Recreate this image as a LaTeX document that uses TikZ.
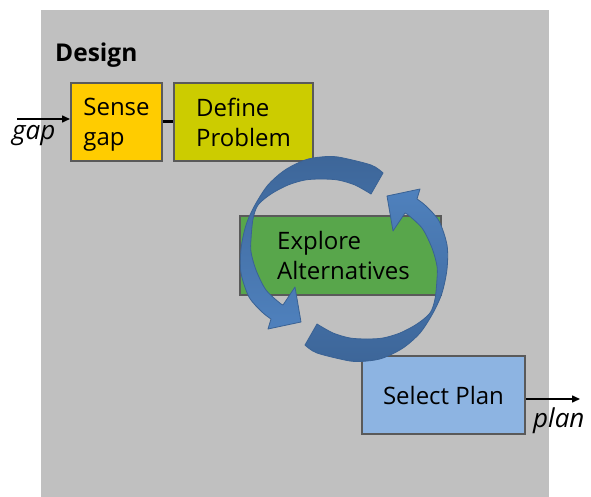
\documentclass[tikz,border=0pt]{standalone}
\usepackage{fontspec}
\setmainfont{Open Sans}
\usepackage{xcolor}
\usepackage{tikz}
\usetikzlibrary{arrows.meta}
\definecolor{panel}{HTML}{C0C0C0}
\definecolor{edge}{HTML}{5A5A5A}
\definecolor{sensefill}{HTML}{FFCC00}
\definecolor{definefill}{HTML}{CCCC00}
\definecolor{explorefill}{HTML}{58A64B}
\definecolor{selectfill}{HTML}{8DB4E2}
\definecolor{arcdark}{HTML}{3D6699}
\definecolor{arclight}{HTML}{4F81BD}
\definecolor{arcedge}{HTML}{3A6294}
\tikzset{
  box/.style={draw=edge, line width=2pt, align=left,
    font=\fontsize{24}{30}\selectfont, text=black, inner sep=0pt},
  flow/.style={draw=black, line width=1.5pt, -{Triangle[length=8pt,width=7pt]}},
  link/.style={draw=black, line width=3pt},
  word/.style={font=\fontsize{26}{30}\selectfont\itshape, inner sep=0pt, anchor=base west},
  arcshape/.style={draw=arcedge, line width=0.8pt, line join=round}
}
\begin{document}
\begin{tikzpicture}[x=1pt,y=-1pt]
  \useasboundingbox (0,0) rectangle (591,497);
  \fill[panel] (41,10) rectangle (549,497);

  \node[font=\fontsize{24.5}{28}\selectfont\bfseries, inner sep=0pt, anchor=base west] (title) at (55,62) {Design};

  % the four steps
  \node[box, fill=sensefill, minimum width=91pt, minimum height=78pt] (sense) at (116.5,122) {Sense\\\smash{gap}};
  \node[box, fill=definefill, minimum width=139pt, minimum height=78pt] (define) at (243.5,122) {Define\\Problem};
  \node[box, fill=explorefill, minimum width=201pt, minimum height=79pt] (explore) at (340.5,255.5) {\hspace*{6pt}Explore\\\hspace*{6pt}Alternatives};
  \node[box, fill=selectfill, minimum width=163pt, minimum height=78pt] (select) at (443.5,395) {Select Plan};

  \coordinate (gapin) at (17,119);
  \coordinate (planout) at (580,399);
  \draw[flow] (gapin) -- (gapin -| sense.west);
  \draw[flow] (select.east |- planout) -- (planout);
  \draw[link] (sense.east) -- (define.west);
  \node[word] (gaptext) at (12,140) {gap};
  \node[word] (plantext) at (533,427) {plan};

  % circular arrows round Explore
  \path[arcshape, top color=arcdark, bottom color=arclight]
    plot[smooth] coordinates {(383,173) (371,165) (338,157) (321,157) (305,160) (285,170) (268,185) (255,205) (246,225) (241,249) (241,273) (249,297) (262,312) (271,319)}
    -- (268,329) -- (301,322) -- (295,287) -- (283,305)
    -- plot[smooth] coordinates {(281,304) (266,290) (256,270) (251,252) (251,239) (253,219) (258,205) (271,194) (288,185) (305,180) (321,179) (338,180) (355,185) (371,194)}
    -- cycle;
  \begin{scope}[rotate around={180:(344,259)}]
    \path[arcshape, top color=arclight, bottom color=arcdark]
      plot[smooth] coordinates {(383,173) (371,165) (338,157) (321,157) (305,160) (285,170) (268,185) (255,205) (246,225) (241,249) (241,273) (249,297) (262,312) (271,319)}
      -- (268,329) -- (301,322) -- (295,287) -- (283,305)
      -- plot[smooth] coordinates {(281,304) (266,290) (256,270) (251,252) (251,239) (253,219) (258,205) (271,194) (288,185) (305,180) (321,179) (338,180) (355,185) (371,194)}
      -- cycle;
  \end{scope}
\end{tikzpicture}
\end{document}
